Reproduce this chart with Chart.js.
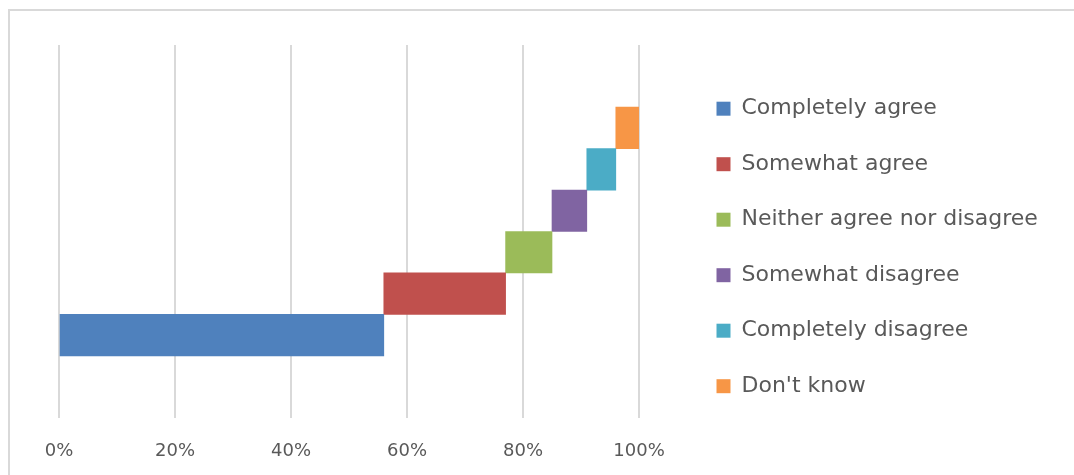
<!DOCTYPE html>
<html>
<head>
<meta charset="utf-8">
<script src="https://cdn.jsdelivr.net/npm/chart.js@4"></script>
<style>
  body { margin: 0; background: #fff; }
  #frame { position: absolute; left: 8px; top: 9px; width: 1100px; height: 500px;
           border-top: 2px solid #d9d9d9; border-left: 2px solid #d9d9d9; }
  #wrap { position: absolute; left: 0; top: 0; width: 1074px; height: 475px; }
</style>
</head>
<body>
<div id="frame"></div>
<div id="wrap"><canvas id="answersChart"></canvas></div>
<script>
// answer categories, in legend order
var categories = ['Completely agree', 'Somewhat agree', 'Neither agree nor disagree',
                  'Somewhat disagree', 'Completely disagree', "Don't know"];
// share of answers, percent
var shares = [56, 21, 8, 6, 5, 4];
var colors = ['#4f81bd', '#c0504d', '#9bbb59', '#8064a2', '#4bacc6', '#f79646'];
// rows of the y axis, top to bottom (blank rows keep the spacing)
var rows = ['', '', "Don't know", 'Completely disagree', 'Somewhat disagree',
            'Neither agree nor disagree', 'Somewhat agree', 'Completely agree', '', ''];

var legendFont = {family: 'DejaVu Sans', size: 22};
var legendPad = 33.5;
var legendBox = 14;
var plotRight = 639;

function pageLoad(){
    var datasets = [];
    var start = 0;
    for (var i = 0; i < categories.length; i++) {
        datasets.push({
            label: categories[i],
            data: [{x: [start, start + shares[i]], y: categories[i]}],
            backgroundColor: colors[i],
            borderWidth: 0,
            barPercentage: 1,
            categoryPercentage: 1
        });
        start += shares[i];
    }

    // rough legend width, so it does not get squeezed
    var mctx = document.createElement('canvas').getContext('2d');
    mctx.font = legendFont.size + 'px ' + legendFont.family;
    var textW = 0;
    categories.forEach(function(c){ textW = Math.max(textW, mctx.measureText(c).width); });
    var legendW = 2 * legendPad + legendBox + legendFont.size / 2 + textW + 1;

    var ctx = document.getElementById("answersChart");
    var answersChart = new Chart(ctx, {
        type: 'bar',
        data: {
            labels: rows,
            datasets: datasets
        },
        options: {
            indexAxis: 'y',
            responsive: true,
            maintainAspectRatio: false,
            animation: false,
            grouped: false,
            layout: {
                padding: {left: 59, right: 0, top: 19.9, bottom: 0}
            },
            scales: {
                x: {
                    min: 0,
                    max: 100,
                    ticks: {
                        stepSize: 20,
                        padding: 22.7,
                        color: '#595959',
                        font: {family: 'DejaVu Sans', size: 18},
                        callback: function(v){ return v + '%'; }
                    },
                    grid: {color: '#d9d9d9', lineWidth: 2, drawTicks: false},
                    border: {display: false},
                    afterFit: function(scale){ scale.height = 57; }
                },
                y: {
                    position: 'right',
                    offset: false,
                    ticks: {display: false},
                    grid: {display: false},
                    border: {display: false},
                    afterFit: function(scale){ scale.width = 44; }
                }
            },
            plugins: {
                tooltip: {enabled: false},
                // empty title, only keeps the plot top at y=45
                title: {
                    display: true,
                    text: '',
                    padding: 0,
                    font: {size: 25.1, lineHeight: 1}
                },
                legend: {
                    position: 'right',
                    align: 'center',
                    maxWidth: legendW,
                    labels: {
                        boxWidth: legendBox,
                        boxHeight: legendBox,
                        padding: legendPad,
                        color: '#595959',
                        font: legendFont
                    }
                }
            }
        }
    });

    // push the plot's right edge (and the legend with it) to where it sits in the picture
    var shift = answersChart.chartArea.right - plotRight;
    if (shift > 0) {
        answersChart.options.layout.padding.right = shift;
        answersChart.update();
    }
}

window.onload = pageLoad;
</script>
</body>
</html>
